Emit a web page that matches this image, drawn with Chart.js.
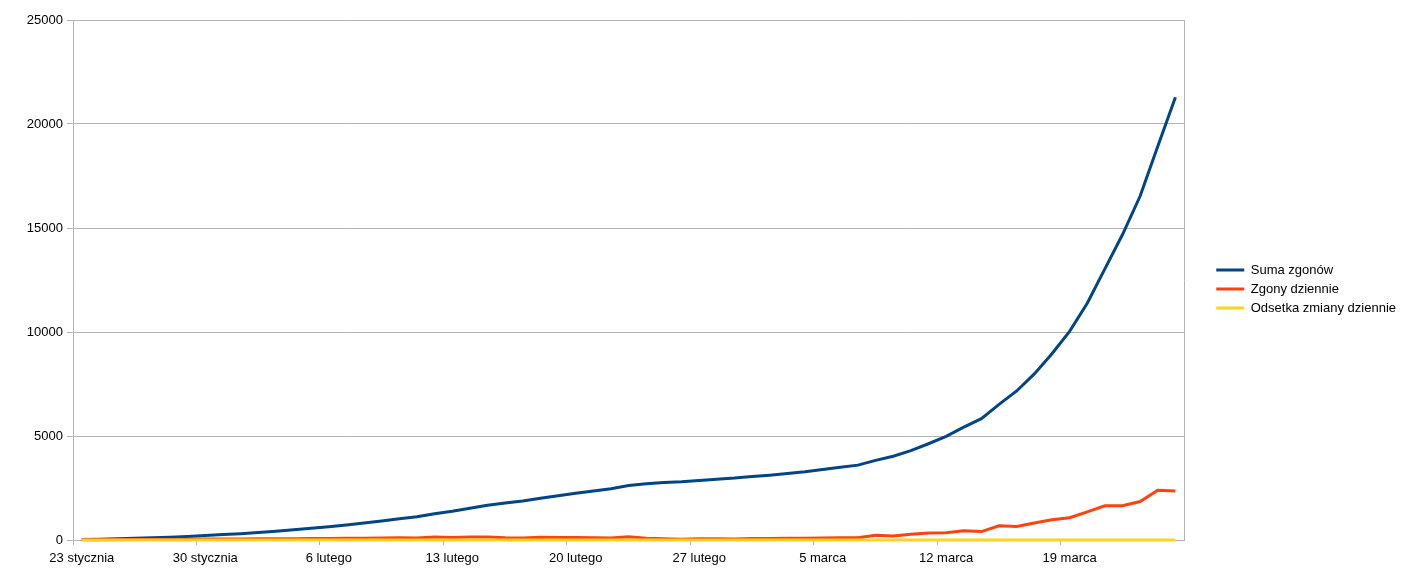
<!DOCTYPE html>
<html>
<head>
<meta charset="utf-8">
<script src="https://cdn.jsdelivr.net/npm/chart.js@4/dist/chart.umd.min.js"></script>
<style>
  html, body { margin: 0; padding: 0; background: #fff; }
  #wrap { width: 1409px; height: 576px; position: relative; }
</style>
</head>
<body>
<div id="wrap"><canvas id="c"></canvas></div>
<script>
const categories = [
  "23 stycznia","24 stycznia","25 stycznia","26 stycznia","27 stycznia","28 stycznia","29 stycznia",
  "30 stycznia","31 stycznia","1 lutego","2 lutego","3 lutego","4 lutego","5 lutego",
  "6 lutego","7 lutego","8 lutego","9 lutego","10 lutego","11 lutego","12 lutego",
  "13 lutego","14 lutego","15 lutego","16 lutego","17 lutego","18 lutego","19 lutego",
  "20 lutego","21 lutego","22 lutego","23 lutego","24 lutego","25 lutego","26 lutego",
  "27 lutego","28 lutego","29 lutego","1 marca","2 marca","3 marca","4 marca",
  "5 marca","6 marca","7 marca","8 marca","9 marca","10 marca","11 marca",
  "12 marca","13 marca","14 marca","15 marca","16 marca","17 marca","18 marca",
  "19 marca","20 marca","21 marca","22 marca","23 marca","24 marca","25 marca"
];

const sumaZgonow = [
  25, 41, 56, 80, 106, 132, 170,
  213, 259, 304, 362, 426, 492, 565,
  638, 724, 813, 910, 1018, 1115, 1261,
  1383, 1526, 1669, 1775, 1873, 2009, 2126,
  2247, 2360, 2460, 2618, 2699, 2763, 2800,
  2858, 2923, 2977, 3050, 3117, 3202, 3285,
  3387, 3494, 3599, 3827, 4025, 4296, 4628,
  4981, 5428, 5833, 6520, 7165, 7983, 8957,
  10031, 11386, 13034, 14685, 16537, 18926, 21281
];

const zgonyDziennie = [
  8, 16, 15, 24, 26, 26, 38,
  43, 46, 45, 58, 64, 66, 73,
  73, 86, 89, 97, 108, 97, 146,
  122, 143, 143, 106, 98, 136, 117,
  121, 113, 100, 158, 81, 64, 37,
  58, 65, 54, 73, 67, 85, 83,
  102, 107, 105, 228, 198, 271, 332,
  353, 447, 405, 687, 645, 818, 974,
  1074, 1355, 1648, 1651, 1852, 2389, 2355
];

const odsetkaZmiany = [
  0.47, 0.64, 0.37, 0.43, 0.33, 0.25, 0.29,
  0.25, 0.22, 0.17, 0.19, 0.18, 0.15, 0.15,
  0.13, 0.13, 0.12, 0.12, 0.12, 0.10, 0.13,
  0.10, 0.10, 0.09, 0.06, 0.06, 0.07, 0.06,
  0.06, 0.05, 0.04, 0.06, 0.03, 0.02, 0.01,
  0.02, 0.02, 0.02, 0.02, 0.02, 0.03, 0.03,
  0.03, 0.03, 0.03, 0.06, 0.05, 0.07, 0.08,
  0.08, 0.09, 0.07, 0.12, 0.10, 0.11, 0.12,
  0.12, 0.14, 0.14, 0.13, 0.13, 0.14, 0.12
];

const seriesNames = ["Suma zgonów", "Zgony dziennie", "Odsetka zmiany dziennie"];
const seriesColors = ["#004586", "#ff420e", "#ffd320"];
const yTicks = [0, 5000, 10000, 15000, 20000, 25000];

const GRID = "#b3b3b3";
const FONT = { family: "'Liberation Sans', Arial, sans-serif", size: 13 };

function ds(i, data, order) {
  return {
    label: seriesNames[i],
    data: data,
    borderColor: seriesColors[i],
    backgroundColor: seriesColors[i],
    borderWidth: 3,
    pointRadius: 0,
    pointHoverRadius: 0,
    tension: 0,
    fill: false,
    clip: false,
    order: order
  };
}

const legendShift = {
  id: 'legendShift',
  afterLayout(chart) {
    if (chart.legend) {
      chart.legend.top -= 9;
      chart.legend.bottom -= 9;
    }
  }
};

new Chart(document.getElementById('c'), {
  type: 'line',
  data: {
    labels: categories,
    datasets: [
      ds(0, sumaZgonow, 2),
      ds(1, zgonyDziennie, 1),
      ds(2, odsetkaZmiany, 0)
    ]
  },
  plugins: [legendShift],
  options: {
    responsive: true,
    maintainAspectRatio: false,
    animation: false,
    events: [],
    layout: { padding: { top: 20, left: 0, right: 3, bottom: 0 } },
    plugins: {
      tooltip: { enabled: false },
      legend: {
        position: 'right',
        align: 'center',
        labels: {
          color: '#000',
          font: FONT,
          boxWidth: 28,
          boxHeight: 3,
          padding: 6,
          sort: (a, b) => a.datasetIndex - b.datasetIndex,
          generateLabels: (chart) => {
            const items = Chart.defaults.plugins.legend.labels.generateLabels(chart);
            items.forEach(it => { it.lineWidth = 0; it.fillStyle = seriesColors[it.datasetIndex]; });
            return items;
          }
        }
      }
    },
    scales: {
      x: {
        type: 'category',
        offset: true,
        grid: {
          offset: true,
          drawOnChartArea: false,
          drawTicks: true,
          tickLength: 5,
          color: (ctx) => (ctx.index % 7 === 0 ? GRID : 'rgba(0,0,0,0)')
        },
        border: { display: true, color: GRID },
        ticks: {
          autoSkip: false,
          maxRotation: 0,
          minRotation: 0,
          padding: 6,
          color: '#000',
          font: FONT,
          callback: function(value, index) {
            return index % 7 === 0 ? categories[index] : '';
          }
        },
        afterFit: (s) => { s.height = 36; }
      },
      y: {
        min: yTicks[0],
        max: yTicks[yTicks.length - 1],
        afterBuildTicks: (s) => { s.ticks = yTicks.map(v => ({ value: v })); },
        grid: { color: GRID, lineWidth: 1, tickLength: 6, drawTicks: true },
        border: { display: true, color: GRID },
        ticks: {
          padding: 4, color: '#000', font: FONT,
          callback: (v) => String(v)
        },
        afterFit: (s) => { s.width = 73; }
      },
      y2: {
        position: 'right',
        display: true,
        min: 0,
        max: 1,
        grid: { drawOnChartArea: false, drawTicks: false },
        border: { display: true, color: GRID },
        ticks: { display: false },
        afterFit: (s) => { s.width = 26; }
      }
    }
  }
});
</script>
</body>
</html>
